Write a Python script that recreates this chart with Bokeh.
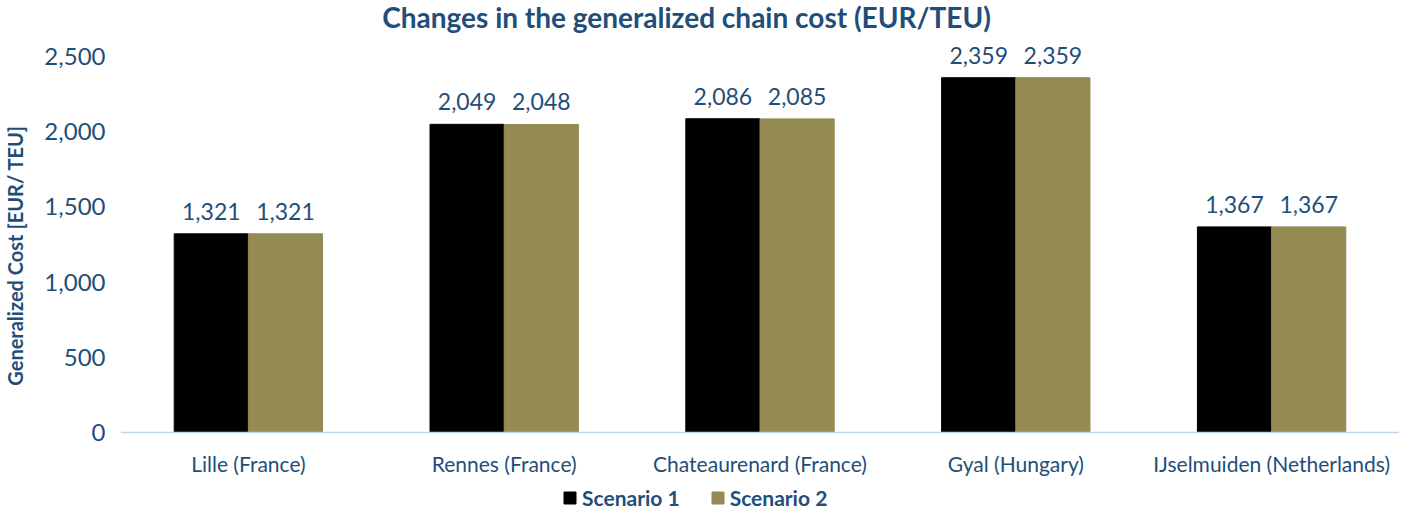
from bokeh.plotting import figure
from bokeh.models import (ColumnDataSource, FactorRange, Range1d, Legend, LegendItem, LabelSet, Label,
                          NumeralTickFormatter, Span)
from bokeh.core.properties import value
from bokeh.transform import dodge
from bokeh.embed import file_html
from bokeh.resources import INLINE

categories = ["Lille (France)", "Rennes (France)", "Chateaurenard (France)", "Gyal (Hungary)", "IJselmuiden (Netherlands)"]
scenario1 = [1321, 2049, 2086, 2359, 1367]
scenario2 = [1321, 2048, 2085, 2359, 1367]
series_names = ["Scenario 1", "Scenario 2"]
y_ticks = [0, 500, 1000, 1500, 2000, 2500]
title_text = "Changes in the generalized chain cost (EUR/TEU)"

BLUE = "#1F4E79"
FONT = "Lato"

# layout (pixels): figure height, where 0 and 2500 sit, where the title sits
H = 510
Y0_PX, YMAX_PX, TITLE_PX = 432, 56, 16
k = (y_ticks[-1] - y_ticks[0]) / (Y0_PX - YMAX_PX)  # data units per pixel
y_start = -(H - Y0_PX) * k
y_end = y_ticks[-1] + YMAX_PX * k

src = ColumnDataSource(dict(
    cat=categories, s1=scenario1, s2=scenario2, zero=[0] * len(categories),
    l1=[f"{v:,}" for v in scenario1], l2=[f"{v:,}" for v in scenario2],
))

p = figure(x_range=FactorRange(*categories), y_range=Range1d(y_start, y_end),
           width=1399, height=H, output_backend="svg", toolbar_location=None,
           x_axis_location=None,
           min_border_left=116, min_border_right=0, min_border_top=0, min_border_bottom=0)

bw = 0.29
r1 = p.vbar(x=dodge("cat", -bw / 2, range=p.x_range), top="s1", width=bw, source=src, color="#000000")
r2 = p.vbar(x=dodge("cat", bw / 2, range=p.x_range), top="s2", width=bw, source=src, color="#948A54")

p.add_layout(Span(location=0, dimension="width", line_color="#BDD7EE", line_width=1.5))

for col, lab, off in (("s1", "l1", -bw / 2), ("s2", "l2", bw / 2)):
    p.add_layout(LabelSet(x=dodge("cat", off, range=p.x_range), y=col, text=lab, source=src,
                          text_align="center", text_baseline="alphabetic", y_offset=14,
                          text_font=value(FONT), text_font_size="23px", text_color=BLUE))

# category labels under the baseline
p.add_layout(LabelSet(x="cat", y="zero", text="cat", source=src, y_offset=-31,
                      text_align="center", text_baseline="middle",
                      text_font=value(FONT), text_font_size="21px", text_color=BLUE))

# title
p.add_layout(Label(x=2.213, y=y_ticks[-1] + (YMAX_PX - TITLE_PX) * k, text=title_text,
                   text_align="center", text_baseline="middle", text_font=FONT,
                   text_font_size="28px", text_font_style="bold", text_color=BLUE))

p.xgrid.visible = False
p.ygrid.visible = False
p.outline_line_color = None

p.yaxis.formatter = NumeralTickFormatter(format="0,0")
p.yaxis.ticker = y_ticks
p.yaxis.axis_line_color = None
p.yaxis.major_tick_line_color = None
p.yaxis.minor_tick_line_color = None
p.yaxis.major_label_text_font = FONT
p.yaxis.major_label_text_font_size = "24px"
p.yaxis.major_label_text_color = BLUE
p.yaxis.major_label_standoff = 9
p.yaxis.axis_label = "Generalized Cost [EUR/ TEU]"
p.yaxis.axis_label_text_font = FONT
p.yaxis.axis_label_text_font_size = "20px"
p.yaxis.axis_label_text_font_style = "bold"
p.yaxis.axis_label_text_color = BLUE
p.yaxis.axis_label_standoff = 14

legend = Legend(items=[LegendItem(label=series_names[0], renderers=[r1]),
                       LegendItem(label=series_names[1], renderers=[r2])],
                orientation="horizontal", location=(442, 0),
                label_text_font=FONT, label_text_font_size="21px", label_text_font_style="bold",
                label_text_color=BLUE, glyph_width=15, glyph_height=15, spacing=30,
                label_standoff=5, background_fill_alpha=0, border_line_color=None,
                padding=0, margin=0, label_height=18)
p.add_layout(legend, "center")

open("out.html", "w").write(file_html(p, INLINE))
